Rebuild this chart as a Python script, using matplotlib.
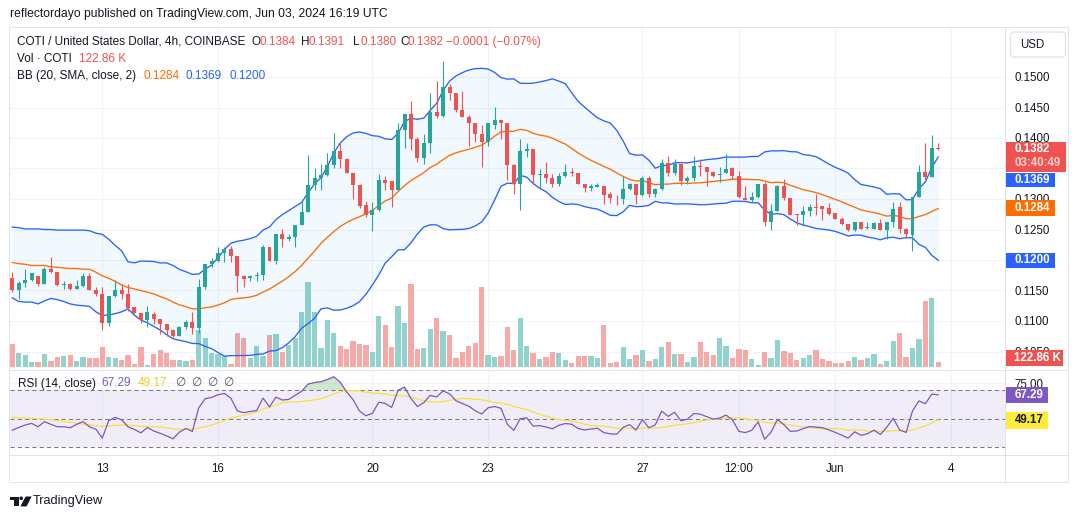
import numpy as np
import pandas as pd
import matplotlib
matplotlib.use("Agg")
import matplotlib.pyplot as plt
from matplotlib.patches import Rectangle, FancyBboxPatch, Polygon, Circle
from matplotlib.lines import Line2D
from matplotlib.transforms import Affine2D

plt.rcParams['font.family'] = ['Liberation Sans', 'DejaVu Sans']

W, H = 1080, 515

# ---- data (COTI/USD 4h, bar 0 = May 10 16:00) ----
opens = [.1171, .1151, .1162, .1167, .1174, .1161, .1186, .1180, .1159, .1160,
         .1152, .1157, .1173, .1151, .1144, .1097, .1141, .1151, .1144, .1123,
         .1113, .1101, .1111, .1103, .1095, .1086, .1076, .1090, .1098, .1089,
         .1155, .1193, .1199, .1212, .1218, .1207, .1174, .1170, .1173, .1175,
         .1222, .1199, .1243, .1235, .1238, .1257, .1278, .1323, .1334, .1340,
         .1356, .1378, .1366, .1343, .1323, .1290, .1273, .1282, .1331, .1329,
         .1315, .1413, .1440, .1399, .1367, .1391, .1442, .1436, .1484, .1473,
         .1446, .1435, .1424, .1406, .1393, .1422, .1430, .1424, .1356, .1324,
         .1378, .1382, .1339, .1341, .1334, .1325, .1338, .1345, .1342, .1324,
         .1318, .1320, .1322, .1308, .1302, .1300, .1317, .1324, .1307, .1334,
         .1308, .1316, .1359, .1343, .1357, .1330, .1335, .1354, .1352, .1345,
         .1339, .1343, .1350, .1338, .1302, .1299, .1303, .1324, .1262, .1281,
         .1321, .1301, .1275, .1274, .1280, .1287, .1289, .1285, .1277, .1268,
         .1259, .1249, .1262, .1253, .1251, .1260, .1249, .1262, .1287, .1250,
         .1241, .1304, .1344, .1336, .1384]
highs = [.1181, .1166, .1185, .1178, .1174, .1189, .1205, .1180, .1166, .1162,
         .1168, .1179, .1179, .1155, .1155, .1141, .1168, .1161, .1160, .1123,
         .1113, .1125, .1114, .1103, .1095, .1087, .1092, .1101, .1114, .1169,
         .1193, .1203, .1221, .1221, .1223, .1207, .1176, .1176, .1180, .1224,
         .1222, .1243, .1251, .1243, .1257, .1297, .1372, .1351, .1357, .1376,
         .1409, .1393, .1368, .1343, .1324, .1297, .1295, .1341, .1338, .1330,
         .1424, .1440, .1461, .1401, .1407, .1474, .1493, .1527, .1489, .1474,
         .1477, .1437, .1425, .1422, .1424, .1451, .1430, .1424, .1358, .1398,
         .1392, .1382, .1349, .1361, .1341, .1342, .1357, .1350, .1343, .1324,
         .1324, .1326, .1322, .1311, .1306, .1338, .1327, .1324, .1337, .1338,
         .1318, .1365, .1371, .1366, .1358, .1338, .1370, .1365, .1353, .1346,
         .1353, .1374, .1353, .1346, .1321, .1311, .1325, .1328, .1291, .1323,
         .1332, .1301, .1276, .1288, .1291, .1309, .1289, .1294, .1277, .1270,
         .1259, .1262, .1262, .1262, .1262, .1267, .1263, .1295, .1295, .1252,
         .1303, .1356, .1392, .1405, .1391]
lows = [.1147, .1136, .1155, .1166, .1157, .1160, .1178, .1157, .1153, .1151,
        .1152, .1156, .1151, .1141, .1086, .1092, .1140, .1136, .1117, .1111,
        .1097, .1090, .1095, .1078, .1076, .1074, .1075, .1087, .1079, .1081,
        .1153, .1189, .1196, .1197, .1197, .1148, .1156, .1166, .1166, .1168,
        .1198, .1193, .1222, .1231, .1222, .1257, .1278, .1315, .1315, .1338,
        .1351, .1351, .1342, .1300, .1286, .1270, .1247, .1280, .1315, .1287,
        .1314, .1383, .1380, .1360, .1357, .1375, .1433, .1434, .1462, .1443,
        .1434, .1387, .1394, .1353, .1387, .1414, .1398, .1331, .1309, .1282,
        .1369, .1325, .1318, .1327, .1320, .1321, .1336, .1338, .1324, .1312,
        .1313, .1319, .1291, .1294, .1290, .1291, .1314, .1291, .1305, .1303,
        .1303, .1315, .1338, .1340, .1323, .1324, .1330, .1338, .1322, .1336,
        .1328, .1342, .1332, .1301, .1299, .1295, .1302, .1256, .1249, .1280,
        .1299, .1273, .1258, .1256, .1272, .1274, .1266, .1274, .1268, .1257,
        .1247, .1248, .1251, .1251, .1250, .1249, .1235, .1254, .1244, .1236,
        .1214, .1304, .1332, .1336, .1380]
closes = [.1151, .1162, .1167, .1178, .1161, .1185, .1180, .1159, .1160, .1152,
          .1157, .1173, .1151, .1144, .1097, .1141, .1151, .1144, .1122, .1113,
          .1101, .1114, .1103, .1095, .1086, .1076, .1090, .1098, .1089, .1155,
          .1193, .1199, .1212, .1218, .1207, .1174, .1169, .1173, .1176, .1222,
          .1199, .1243, .1235, .1238, .1257, .1278, .1323, .1334, .1340, .1356,
          .1378, .1366, .1343, .1323, .1289, .1273, .1282, .1331, .1327, .1315,
          .1413, .1439, .1399, .1367, .1391, .1442, .1436, .1484, .1473, .1446,
          .1435, .1424, .1406, .1393, .1424, .1430, .1424, .1356, .1324, .1378,
          .1382, .1339, .1341, .1334, .1325, .1338, .1345, .1342, .1324, .1318,
          .1321, .1323, .1307, .1302, .1301, .1317, .1324, .1307, .1334, .1308,
          .1316, .1359, .1343, .1357, .1330, .1335, .1354, .1352, .1345, .1338,
          .1341, .1349, .1337, .1303, .1299, .1304, .1324, .1262, .1281, .1321,
          .1301, .1273, .1274, .1281, .1287, .1285, .1283, .1276, .1268, .1259,
          .1249, .1262, .1251, .1254, .1261, .1249, .1263, .1283, .1251, .1243,
          .1303, .1344, .1336, .1384, .1382]
volumes_k = [628, 382, 328, 137, 137, 355, 164, 273, 300, 328,
             164, 273, 246, 246, 546, 273, 246, 191, 328, 82,
             546, 55, 355, 464, 382, 191, 191, 164, 191, 1010,
             792, 382, 355, 300, 82, 928, 792, 246, 573, 300,
             874, 901, 410, 601, 792, 1502, 2321, 1502, 519, 1283,
             928, 573, 491, 710, 628, 601, 410, 1392, 1147, 546,
             1665, 1201, 2266, 491, 519, 1037, 1338, 983, 874, 246,
             410, 573, 655, 2184, 328, 273, 300, 1092, 464, 1338,
             573, 382, 218, 273, 410, 382, 191, 109, 300, 300,
             300, 246, 1147, 109, 137, 546, 218, 328, 464, 164,
             218, 546, 683, 355, 355, 137, 273, 683, 410, 328,
             792, 573, 246, 491, 464, 218, 55, 410, 246, 737,
             437, 382, 191, 246, 328, 464, 218, 164, 109, 109,
             164, 273, 191, 246, 355, 82, 164, 710, 928, 273,
             519, 764, 1802, 1884, 122.86]

# indicator values for the first bars (history before the visible window)
bb_upper_head = [.1254, .1253, .1251, .1251, .1251, .1250, .1250, .1249, .1249, .1249,
                 .1249, .1249, .1248, .1244, .1242, .1234, .1224, .1215, .1197]
bb_mid_head = [.1196, .1194, .1193, .1191, .1191, .1191, .1189, .1188, .1187, .1186,
               .1186, .1185, .1185, .1180, .1174, .1170, .1165, .1159, .1155]
bb_lower_head = [.1138, .1132, .1131, .1131, .1128, .1133, .1137, .1135, .1132, .1128,
                 .1126, .1125, .1124, .1115, .1109, .1110, .1112, .1115, .1120]
rsi_head = [42.0, 43.9, 45.6, 46.8, 44.4, 48.0, 46.1, 44.4, 44.4, 43.7, 46.1, 48.0, 44.4, 42.7]
rsi_ma_head = [51.0, 50.8, 50.6, 50.3, 50.1, 49.8, 49.3, 48.7, 48.1, 47.5, 46.9, 46.3, 45.8]

tick_bars = [14, 32, 56, 74, 98, 113, 128, 146]
tick_labels = ['13', '16', '20', '23', '27', '12:00', 'Jun', '4']
price_ticks = [0.105, 0.110, 0.115, 0.120, 0.125, 0.130, 0.135, 0.140, 0.145, 0.150]
price_labels_shown = [0.105, 0.110, 0.115, 0.125, 0.130, 0.140, 0.145, 0.150]

GREEN = '#26a69a'
RED = '#ef5350'
TXT = '#131722'
GRID = '#f0f3fa'
BORDER = '#e0e3eb'

o = np.array(opens); h = np.array(highs); l = np.array(lows); c = np.array(closes)
v = np.array(volumes_k)
n = len(c)
x = np.arange(n)
up = c >= o

# Bollinger Bands (20, SMA, 2)
s = pd.Series(c)
mid = s.rolling(20).mean().values
sd = s.rolling(20).std(ddof=0).values
upper = mid + 2 * sd
lower = mid - 2 * sd
mid[:19] = bb_mid_head
upper[:19] = bb_upper_head
lower[:19] = bb_lower_head

# RSI 14 (Wilder) + 14 SMA
d = np.diff(c)
gain = np.clip(d, 0, None)
loss = np.clip(-d, 0, None)
rsi = np.full(n, np.nan)
rsi[:14] = rsi_head
ag = gain[:14].mean()
al = loss[:14].mean()
rsi[14] = 100 - 100 / (1 + ag / al)
for i in range(15, n):
    ag = (ag * 13 + gain[i - 1]) / 14
    al = (al * 13 + loss[i - 1]) / 14
    rsi[i] = 100 - 100 / (1 + ag / al)
rsi_ma = pd.Series(rsi).rolling(14).mean().values
rsi_ma[:13] = rsi_ma_head

# ---- figure ----
fig = plt.figure(figsize=(W / 100, H / 100), dpi=100)
tpx = Affine2D().scale(1 / W, -1 / H).translate(0, 1) + fig.transFigure


def rect(x0, y0, x1, y1):
    return [x0 / W, 1 - y1 / H, (x1 - x0) / W, (y1 - y0) / H]


XL = ((10 - 12.3) / 6.43, (1005 - 12.3) / 6.43)
YL = (0.15 - (369 - 77) / 6100, 0.15 + (77 - 28) / 6100)

ax_vol = fig.add_axes(rect(10, 28, 1005, 369))
ax = fig.add_axes(rect(10, 28, 1005, 369), sharex=ax_vol)
ax.set_facecolor('none')
ax_rsi = fig.add_axes(rect(10, 370, 1005, 455), sharex=ax_vol)

# volume
vcol = np.where(up, '#92d2cc', '#f7a9a7')
ax_vol.bar(x, v, width=0.82, color=vcol, linewidth=0)
ax_vol.set_ylim(-2 * 27.3, (367 - 28) * 27.3)
ax_vol.set_yticks([])
for tb in tick_bars:
    ax_vol.axvline(tb, color=GRID, lw=0.8, zorder=0)
for pt in price_ticks:
    ax_vol.axhline((367 - (77 + (0.15 - pt) * 6100)) * 27.3, color=GRID, lw=0.8, zorder=0)

# bollinger
ax.fill_between(x, lower, upper, color='#2196f3', alpha=0.06, linewidth=0)
ax.plot(x, upper, color='#2962ff', lw=0.95)
ax.plot(x, lower, color='#2962ff', lw=0.95)
ax.plot(x, mid, color='#ff6d00', lw=0.95)

# candles
ccol = np.where(up, GREEN, RED)
ax.vlines(x, l, h, colors=ccol, lw=0.8, zorder=3)
body_h = np.maximum(np.abs(c - o), 0.00014)
ax.bar(x, body_h, bottom=np.minimum(o, c), width=0.62, color=ccol, linewidth=0, zorder=4)

ax.set_xlim(*XL)
ax.set_ylim(*YL)
ax.yaxis.set_ticks_position('right')
ax.set_yticks(price_labels_shown, ['%.4f' % p for p in price_labels_shown])
ax.tick_params(axis='y', length=0, pad=6.5, labelsize=8.3, labelcolor=TXT)
ax.tick_params(axis='x', length=0, labelbottom=False)
ax_vol.tick_params(axis='x', length=0, labelbottom=False)

# rsi pane
ax_rsi.axhspan(30, 70, color='#7e57c2', alpha=0.1, lw=0)
for lev in (70, 50, 30):
    ax_rsi.axhline(lev, color='#787b86', lw=0.75, dashes=(4, 3))
for tb in tick_bars:
    ax_rsi.axvline(tb, color=GRID, lw=0.8, zorder=0)
ax_rsi.axhline(75, color=GRID, lw=0.8, zorder=0)
ax_rsi.fill_between(x, rsi, 70, where=rsi > 70, interpolate=True, color='#4caf50', alpha=0.28, lw=0)
ax_rsi.plot(x, rsi_ma, color='#f5e23a', lw=0.9)
ax_rsi.plot(x, rsi, color='#7e57c2', lw=0.9)
ax_rsi.set_ylim(24.6, 84.2)
ax_rsi.yaxis.set_ticks_position('right')
ax_rsi.set_yticks([75], ['75.00'])
ax_rsi.tick_params(axis='y', length=0, pad=6.5, labelsize=8.3, labelcolor=TXT)
ax_rsi.set_xticks(tick_bars, tick_labels)
ax_rsi.tick_params(axis='x', length=0, pad=6, labelsize=8.3, labelcolor=TXT)
ax_rsi.set_xlim(*XL)

for a in (ax, ax_vol, ax_rsi):
    for sp in a.spines.values():
        sp.set_visible(False)


def fline(x0, y0, x1, y1, color=BORDER, lw=1.0):
    fig.add_artist(Line2D([x0, x1], [y0, y1], transform=tpx, color=color, lw=lw * 0.72))


def ftext(xp, yp, txt, color=TXT, size=8.5, **kw):
    fig.text(xp, yp, txt, transform=tpx, color=color, fontsize=size, va='center', ha='left', **kw)


def axis_label(y0, y1, x1, color, lines, tcolor='white'):
    fig.add_artist(Rectangle((1006, y0), x1 - 1006, y1 - y0, transform=tpx, color=color, lw=0))
    if len(lines) == 1:
        ftext(1014.5, (y0 + y1) / 2, lines[0], color=tcolor, size=8.3, fontweight='bold')
    else:
        ftext(1014.5, y0 + 7.5, lines[0], color=tcolor, size=8.3, fontweight='bold')
        ftext(1014.5, y0 + 22, lines[1], color='#fbd2d1', size=8.3, fontweight='bold')


# frame
fline(9, 27, 1067.5, 27)
fline(9, 482, 1067.5, 482)
fline(9, 27, 9, 482)
fline(1067.5, 27, 1067.5, 482)
fline(1005, 27, 1005, 482)
fline(9, 369.5, 1067.5, 369.5)
fline(9, 455, 1067.5, 455)

# header
ftext(10, 14.5, 'reflectordayo published on TradingView.com, Jun 03, 2024 16:19 UTC', size=8.7)

ftext(17, 42, 'COTI / United States Dollar, 4h, COINBASE')
for xp, lab, val in [(252, 'O', '0.1384'), (301, 'H', '0.1391'), (353, 'L', '0.1380'), (400, 'C', '0.1382')]:
    ftext(xp, 42, lab)
    ftext(xp + 7.5, 42, val, color=RED)
ftext(446, 42, '\u22120.0001 (\u22120.07%)', color=RED)

ftext(17, 59, 'Vol \u00b7 COTI')
ftext(79, 59, '122.86 K', color=RED)

ftext(17, 76, 'BB (20, SMA, close, 2)')
ftext(143, 76, '0.1284', color='#ff6d00')
ftext(186, 76, '0.1369', color='#2962ff')
ftext(229, 76, '0.1200', color='#2962ff')

ftext(18, 383.5, 'RSI (14, close)')
ftext(101, 383.5, '67.29', color='#7e57c2')
ftext(138, 383.5, '49.17', color='#e6d21f')
for xp in (175, 191, 207, 223):
    ftext(xp, 383.5, '\u2205', color='#50535e')

# USD button
fig.add_artist(FancyBboxPatch((1010.5, 32), 55, 25, boxstyle='round,pad=0,rounding_size=4',
                              transform=tpx, fc='white', ec=BORDER, lw=0.9))
ftext(1020, 44.5, 'USD', size=8.3)

# price-scale labels
axis_label(141.5, 171.5, 1066, RED, ['0.1382', '03:40:49'])
axis_label(173.3, 187, 1055, '#2962ff', ['0.1369'])
axis_label(200, 215.5, 1055, '#ff6d00', ['0.1284'])
axis_label(252.5, 267.5, 1055, '#2962ff', ['0.1200'])
axis_label(350, 365.5, 1063, RED, ['122.86 K'])
axis_label(386.5, 402.5, 1048, '#7e57c2', ['67.29'])
axis_label(412, 428.5, 1048, '#ffeb3b', ['49.17'], tcolor=TXT)

# footer logo
fig.add_artist(Polygon([(9.6, 496.5), (18.5, 496.5), (18.5, 506.4), (14, 506.4), (14, 499.8), (9.6, 499.8)],
                       closed=True, transform=tpx, color=TXT, lw=0))
fig.add_artist(Circle((21.2, 498.3), 1.8, transform=tpx, color=TXT, lw=0))
fig.add_artist(Polygon([(25.6, 496.5), (31.6, 496.5), (26.6, 506.4), (20.4, 506.4)],
                       closed=True, transform=tpx, color=TXT, lw=0))
ftext(33, 501, 'TradingView', size=9.2)

fig.savefig('out.png', dpi=100)
